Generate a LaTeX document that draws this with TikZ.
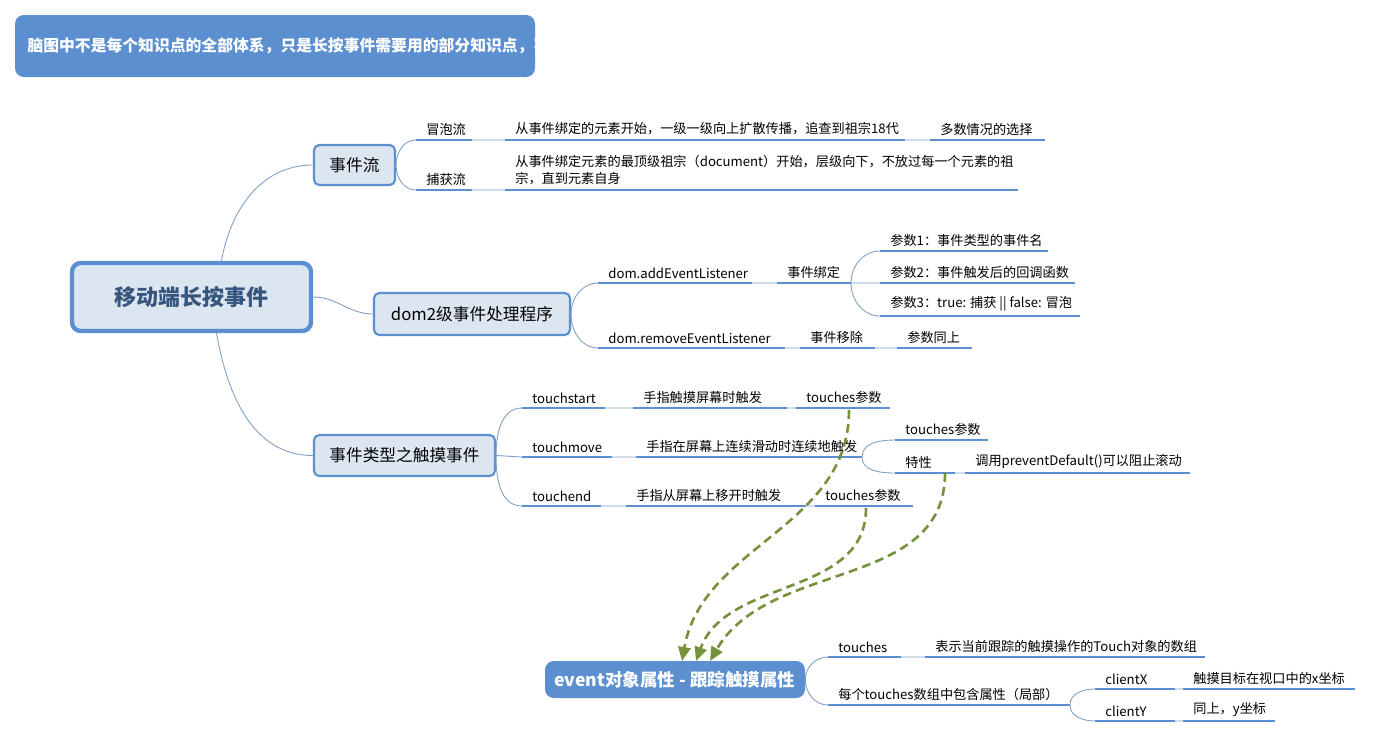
\documentclass[tikz,border=0pt]{standalone}
\usepackage{fontspec}
\setmainfont{Noto Sans CJK SC}
\usetikzlibrary{arrows.meta}
\definecolor{boxblue}{HTML}{5B8FD0}
\definecolor{boxfill}{HTML}{DCE6F1}
\definecolor{linkgray}{HTML}{7F9FC4}
\definecolor{olive}{HTML}{76923C}
\newcommand\leaf[5]{%
  \coordinate (#1-l) at (#2,#4); \coordinate (#1-r) at (#3,#4);
  \draw[uline] (#1-l) -- (#1-r);
  \node[leaftext] (#1) at (#1-l) {#5};}
\begin{document}
\begin{tikzpicture}[x=0.02cm, y=-0.02cm,
    uline/.style={draw=boxblue, line width=1.6pt},
    leaftext/.style={anchor=south west, inner xsep=0.2cm, inner ysep=2.5pt, font=\fontsize{7.5}{10}\selectfont, align=left},
    mainbox/.style={draw=boxblue, fill=boxfill, rounded corners=3pt, line width=1.2pt, font=\fontsize{9.5}{11}\selectfont},
    bluebox/.style={fill=boxblue, rounded corners=5pt, text=white, font=\bfseries\fontsize{10}{12}\selectfont},
    link/.style={draw=linkgray, line width=0.5pt},
    ref/.style={draw=olive, line width=1.5pt, dashed, dash pattern=on 5pt off 3pt, -{Triangle[length=8pt,width=7pt]}}]

    \useasboundingbox (0,0) rectangle (1373,738);

    % top note
    \node[bluebox, minimum width=520*0.02cm, minimum height=62*0.02cm, text width=495*0.02cm, align=left, font=\bfseries\fontsize{9}{12}\selectfont] (note) at (275,46)
      {脑图中不是每个知识点的全部体系，只是长按事件需要用的部分知识点，不要以偏概全};

    % main boxes
    \node[mainbox, line width=2.5pt, rounded corners=5pt, minimum width=239*0.02cm, minimum height=68*0.02cm, font=\bfseries\fontsize{12.5}{14}\selectfont, text=boxblue!60!black] (root) at (191.5,297) {移动端长按事件};
    \node[mainbox, minimum width=81*0.02cm, minimum height=40*0.02cm] (flow) at (354.5,165) {事件流};
    \node[mainbox, minimum width=196*0.02cm, minimum height=42*0.02cm] (dom) at (472,314) {dom2级事件处理程序};
    \node[mainbox, minimum width=181*0.02cm, minimum height=41*0.02cm] (touch) at (404.5,455.5) {事件类型之触摸事件};
    \node[bluebox, minimum width=260*0.02cm, minimum height=37*0.02cm] (evt) at (675,679.5) {event对象属性 - 跟踪触摸属性};

    % leaves
    \leaf{mp}{416}{472}{140}{冒泡流}
    \leaf{mpd}{505}{905}{140}{从事件绑定的元素开始，一级一级向上扩散传播，追查到祖宗18代}
    \leaf{mps}{930}{1045}{140}{多数情况的选择}
    \leaf{bh}{416}{472}{190}{捕获流}
    \leaf{bhd}{505}{1018}{190}{从事件绑定元素的最顶级祖宗（document）开始，层级向下，不放过每一个元素的祖\\宗，直到元素自身}
    \leaf{add}{598}{752}{283}{dom.addEventListener}
    \leaf{bind}{777}{851}{283}{事件绑定}
    \leaf{p1}{880}{1048}{251}{参数1：事件类型的事件名}
    \leaf{p2}{880}{1075}{283}{参数2：事件触发后的回调函数}
    \leaf{p3}{880}{1080}{316}{参数3：true: 捕获 || false: 冒泡}
    \leaf{rm}{598}{785}{348}{dom.removeEventListener}
    \leaf{unb}{800}{875}{348}{事件移除}
    \leaf{same}{897}{972}{348}{参数同上}
    \leaf{ts}{522}{605}{408}{touchstart}
    \leaf{tsd}{633}{787}{408}{手指触摸屏幕时触发}
    \leaf{tsp}{796}{890}{408}{touches参数}
    \leaf{tm}{522}{612}{457}{touchmove}
    \leaf{tmd}{636}{862}{457}{手指在屏幕上连续滑动时连续地触发}
    \leaf{tmp}{895}{988}{440}{touches参数}
    \leaf{tmf}{895}{955}{473}{特性}
    \leaf{tmfd}{965}{1190}{473}{调用preventDefault()可以阻止滚动}
    \leaf{te}{522}{601}{506}{touchend}
    \leaf{ted}{626}{806}{506}{手指从屏幕上移开时触发}
    \leaf{tep}{815}{913}{506}{touches参数}
    \leaf{tch}{828}{901}{657}{touches}
    \leaf{tchd}{925}{1205}{657}{表示当前跟踪的触摸操作的Touch对象的数组}
    \leaf{each}{828}{1070}{705}{每个touches数组中包含属性（局部）}
    \leaf{cx}{1095}{1175}{689}{clientX}
    \leaf{cxd}{1183}{1355}{689}{触摸目标在视口中的x坐标}
    \leaf{cy}{1095}{1175}{721}{clientY}
    \leaf{cyd}{1183}{1275}{721}{同上，y坐标}

    % branches
    \path[link]
    (root.north) ++(30,0) coordinate (r1) (r1) to[out=80, in=180] (flow.west)
    (root.east) to[out=0, in=180] (dom.west)
    (root.south) ++(25,0) coordinate (r2) (r2) to[out=-80, in=180] (touch.west)
    (flow.east) to[out=90, in=180] (mp-l)
    (flow.east) to[out=-90, in=180] (bh-l)
    (mp-r) -- (mpd-l) (mpd-r) -- (mps-l) (bh-r) -- (bhd-l)
    (dom.east) to[out=90, in=180] (add-l)
    (dom.east) to[out=-90, in=180] (rm-l)
    (add-r) -- (bind-l) (bind-r) to[out=90, in=180] (p1-l)
    (bind-r) -- (p2-l) (bind-r) to[out=-90, in=180] (p3-l)
    (rm-r) -- (unb-l) (unb-r) -- (same-l)
    (touch.east) to[out=90, in=180] (ts-l)
    (touch.east) -- (tm-l)
    (touch.east) to[out=-90, in=180] (te-l)
    (ts-r) -- (tsd-l) (tsd-r) -- (tsp-l)
    (tm-r) -- (tmd-l) (tmd-r) to[out=90, in=180] (tmp-l)
    (tmd-r) to[out=-90, in=180] (tmf-l) (tmf-r) -- (tmfd-l)
    (te-r) -- (ted-l) (ted-r) -- (tep-l)
    (evt.east) to[out=90, in=180] (tch-l)
    (evt.east) to[out=-90, in=180] (each-l)
    (tch-r) -- (tchd-l)
    (each-r) to[out=90, in=180] (cx-l)
    (each-r) to[out=-90, in=180] (cy-l)
    (cx-r) -- (cxd-l) (cy-r) -- (cyd-l);

    % references
    \coordinate (e1) at (682,661);
    \coordinate (e2) at (696,661);
    \coordinate (e3) at (710,661);
    \draw[ref] (tsp.south) ++(5,2) to[out=-90, in=80] (e1);
    \draw[ref] (tmf-r) ++(-10,0) to[out=-90, in=60] (e3);
    \draw[ref] (tep.south) ++(3,2) to[out=-90, in=70] (e2);
\end{tikzpicture}
\end{document}
